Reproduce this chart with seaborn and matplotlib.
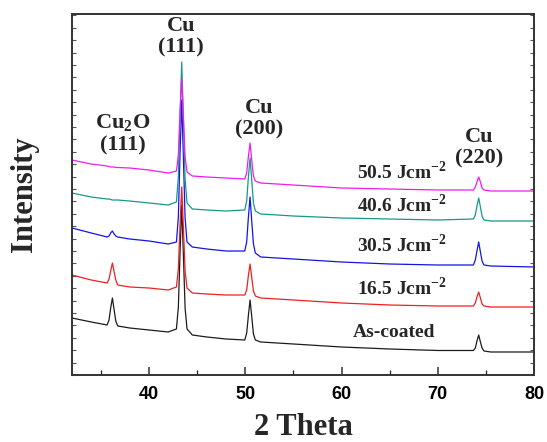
import matplotlib
matplotlib.use('Agg')
import matplotlib.pyplot as plt
from matplotlib.ticker import MultipleLocator, NullFormatter
import seaborn as sns
import pandas as pd

# 2 theta sample positions (deg)
two_theta = [32, 34, 35.65, 35.85, 36.02, 36.2, 36.38, 36.55, 36.75, 38, 40, 42,
             42.85, 43.05, 43.22, 43.4, 43.58, 43.75, 43.95, 44.5, 46, 48,
             49.95, 50.15, 50.32, 50.5, 50.68, 50.85, 51.05, 51.6, 55, 60, 65, 70,
             73.7, 73.9, 74.07, 74.25, 74.43, 74.6, 74.8, 75.5, 80]

# offset intensities (arb. units)
as_coated = [57, 53, 50, 55, 67, 77, 65, 54, 49, 47, 45, 43,
             46, 68, 121, 170, 118, 67, 46, 40, 38, 36,
             35, 42, 59, 75, 58, 41, 35, 33, 31, 28, 26, 24.5,
             24.5, 27, 34, 40, 33, 27, 24, 23, 23]
e_16_5 = [100, 95, 92, 96, 104, 112, 103, 95, 90, 88, 87, 85,
          88, 106, 149, 188, 146, 104, 87, 82, 81, 80,
          80, 85, 99, 111, 97, 84, 79, 77, 75, 72, 70, 69,
          69, 72, 78, 83, 77, 71, 69, 68, 68]
e_30_5 = [147, 142, 138, 139, 142, 144, 141, 139, 138, 136, 134, 131,
          133, 158, 220, 275, 215, 157, 133, 128, 126, 124,
          124, 133, 157, 178, 153, 131, 122, 118, 116, 113, 111, 110,
          110, 115, 124, 133, 123, 114, 110, 109, 108]
e_40_6 = [182, 178, 176, 176, 175.5, 175, 175, 175, 175, 174, 172, 170,
          173, 198, 258, 313, 253, 196, 172, 166, 165, 164,
          165, 174, 197, 217, 194, 172, 164, 161, 159, 157, 156, 155,
          156, 160, 169, 177, 168, 159, 155, 154, 154]
e_50_5 = [215, 211, 209, 208.5, 208, 208, 208, 207.5, 207.5, 207, 205, 202,
          204, 220, 261, 297, 257, 218, 203, 199, 198, 197,
          196, 202, 218, 232, 214, 199, 194, 192, 190, 187, 186, 185,
          185, 188, 193, 198, 193, 187, 185, 184, 184]

samples = ['As-coated', '16.5', '30.5', '40.6', '50.5']
colors = ['#1c1c1c', '#ee2020', '#1414e6', '#16998a', '#ee1cee']

df = pd.concat([
    pd.DataFrame({'two_theta': two_theta, 'intensity': ys, 'sample': name})
    for name, ys in zip(samples, [as_coated, e_16_5, e_30_5, e_40_6, e_50_5])
])

sns.set_theme(style='ticks')
plt.rcParams['font.family'] = ['Liberation Serif', 'DejaVu Serif']
plt.rcParams['mathtext.fontset'] = 'custom'
plt.rcParams['mathtext.rm'] = 'Liberation Serif'
plt.rcParams['mathtext.bf'] = 'Liberation Serif:bold'

fig = plt.figure(figsize=(5.47, 4.42), dpi=100)
ax = fig.add_axes([0.1316, 0.1516, 0.8447, 0.8167])

sns.lineplot(data=df, x='two_theta', y='intensity', hue='sample',
             palette=dict(zip(samples, colors)), linewidth=0.9,
             legend=False, ax=ax, sort=False)

ax.set_xlim(32, 80)
ax.set_ylim(0, 361)

# axis styling
for side in ['left', 'right', 'top', 'bottom']:
    ax.spines[side].set_visible(True)
    ax.spines[side].set_linewidth(1.4)
    ax.spines[side].set_color('#333333')

ax.xaxis.set_major_locator(MultipleLocator(10))
ax.xaxis.set_minor_locator(MultipleLocator(5))
ax.tick_params(axis='x', which='major', direction='in', length=6, width=1.1,
               top=False, pad=8, colors='#333333', labelcolor='black')
ax.tick_params(axis='x', which='minor', direction='in', length=3.5, width=1.0,
               top=False, colors='#333333')
for lbl in ax.get_xticklabels():
    lbl.set_fontfamily('Liberation Sans')
    lbl.set_fontweight('bold')
    lbl.set_fontsize(13)

ax.yaxis.set_major_locator(MultipleLocator(12.4))
ax.yaxis.set_major_formatter(NullFormatter())
ax.tick_params(axis='y', which='major', direction='in', length=3, width=0.8,
               left=True, right=True, colors='#555555')

ax.set_xlabel('2 Theta', fontsize=22, fontweight='bold', labelpad=7)
ax.set_ylabel('Intensity', fontsize=22, fontweight='bold', labelpad=20)

# peak annotations
peak_kw = dict(ha='center', va='center', fontsize=16, fontweight='bold',
               linespacing=1.1)
ax.text(43.3, 338, 'Cu\n(111)', **peak_kw)
ax.text(37.3, 241, 'Cu$_\\mathbf{2}$O\n(111)', **peak_kw)
ax.text(51.4, 256, 'Cu\n(200)', **peak_kw)
ax.text(74.3, 227, 'Cu\n(220)', **peak_kw)

# sample labels
lab_kw = dict(ha='left', va='center', fontsize=14, fontweight='bold')
ax.text(61.6, 203, '50.5 Jcm$^{\\mathbf{-2}}$', **lab_kw)
ax.text(61.6, 170, '40.6 Jcm$^{\\mathbf{-2}}$', **lab_kw)
ax.text(61.6, 130, '30.5 Jcm$^{\\mathbf{-2}}$', **lab_kw)
ax.text(61.6, 87, '16.5 Jcm$^{\\mathbf{-2}}$', **lab_kw)
ax.text(61.2, 42, 'As-coated', **lab_kw)

fig.savefig('out.png', dpi=100)
plt.close(fig)
